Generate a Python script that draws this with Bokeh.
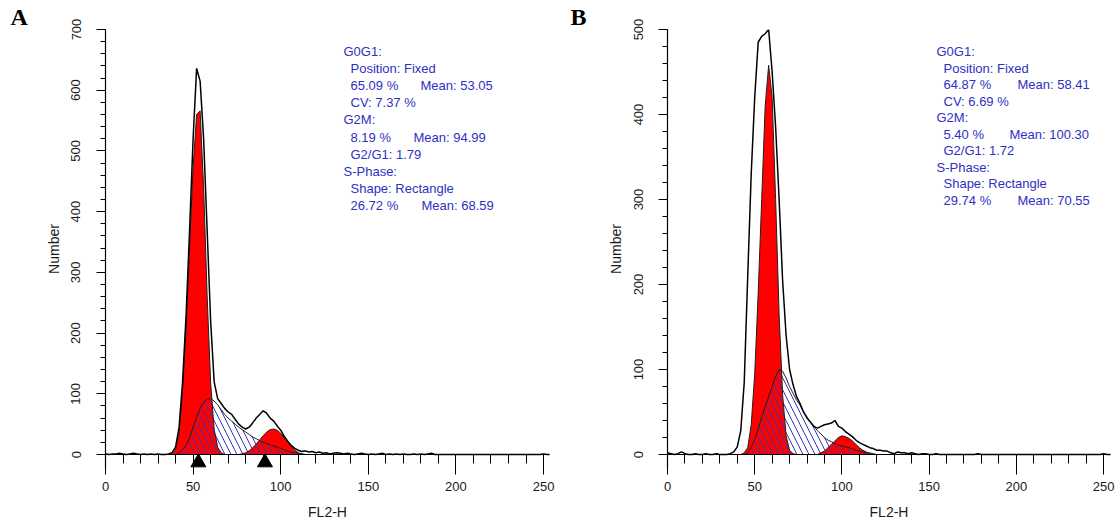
from bokeh.plotting import figure
from bokeh.models import Range1d, SingleIntervalTicker, FixedTicker, Span
from bokeh.layouts import row
from bokeh.embed import file_html
from bokeh.resources import INLINE
from bokeh.core.properties import value

# ---------------- channels (FL2-H) ----------------
chan_low = list(range(0, 34, 2))      # 0..32
chan_main = list(range(34, 132, 2))   # 34..130
chan_tail = list(range(132, 258, 2))  # 132..256

# ---------------- Panel A ----------------
a_raw_low = [1, 0, 1, 1, 2, 1, 0, 1, 2, 1, 0, 1, 0, 1, 0, 1, 0]
a_raw_main = [0, 1, 3, 12, 45, 120, 230, 370, 520, 636,
              615, 520, 370, 220, 120, 92, 84, 76, 70, 66,
              58, 50, 45, 42, 45, 52, 60, 66, 72, 68,
              60, 55, 47, 40, 30, 22, 15, 10, 7, 5,
              6, 4, 5, 3, 4, 2, 3, 1, 2]
a_raw_tail = [3, 2, 1, 2, 1, 0, 1, 2, 1, 0, 1, 0, 1, 2, 0, 1, 0, 1, 0, 1,
              0, 0, 1, 0, 1, 0, 1, 2, 0, 0,
              0, 0, 0, 0, 0, 0, 0, 0, 0, 0, 0, 0, 0, 0, 0, 0, 0, 0, 0, 0,
              0, 0, 0, 0, 0, 0, 0, 0, 0, 1, 0, 0, 0]
a_g0g1 = [0, 0, 1, 8, 35, 105, 210, 340, 472, 560,
          566, 440, 262, 118, 42, 12, 3, 0, 0, 0,
          0, 0, 0, 0, 0, 0, 0, 0, 0, 0,
          0, 0, 0, 0, 0, 0, 0, 0, 0, 0,
          0, 0, 0, 0, 0, 0, 0, 0, 0]
a_sphase = [0, 0, 0, 0, 3, 8, 15, 28, 45, 62,
            76, 86, 91, 92, 88, 82, 74, 66, 60, 55,
            50, 45, 41, 37, 33, 29, 26, 23, 20, 18,
            16, 14, 12, 10, 8, 6, 4, 3, 2, 1,
            0, 0, 0, 0, 0, 0, 0, 0, 0]
a_g2m = [0, 0, 0, 0, 0, 0, 0, 0, 0, 0,
         0, 0, 0, 0, 0, 0, 0, 0, 0, 0,
         0, 0, 1, 3, 6, 11, 17, 24, 31, 37,
         41, 42, 40, 35, 28, 20, 13, 7, 3, 1,
         0, 0, 0, 0, 0, 0, 0, 0, 0]
a_markers = [53, 91]
a_lines = ["G0G1:", "Position:  Fixed", "65.09 %", "CV: 7.37 %", "G2M:",
           "8.19 %", "G2/G1: 1.79", "S-Phase:", "Shape: Rectangle", "26.72 %"]
a_means = {2: "Mean: 53.05", 5: "Mean: 94.99", 9: "Mean: 68.59"}

# ---------------- Panel B ----------------
b_raw_low = [2, 1, 0, 1, 3, 1, 0, 0, 1, 0, 0, 1, 0, 0, 1, 0, 0]
b_raw_main = [0, 1, 3, 9, 28, 85, 210, 330, 420, 485,
              492, 495, 500, 450, 385, 300, 205, 140, 100, 82,
              68, 60, 50, 43, 38, 33, 31, 33, 35, 36,
              37, 40, 33, 31, 27, 24, 21, 17, 14, 12,
              10, 8, 7, 5, 5, 4, 4, 2, 1]
b_raw_tail = [3, 2, 2, 1, 2, 1, 0, 1, 1, 0, 0, 1, 0, 0, 0, 0, 0, 0, 0, 0,
              0, 0, 0, 1, 0, 0, 0, 0, 0, 0,
              0, 0, 0, 0, 0, 0, 0, 0, 0, 0, 0, 0, 0, 0, 0, 0, 0, 0, 0, 0,
              0, 0, 0, 0, 0, 0, 0, 0, 0, 1, 0, 0, 0]
b_g0g1 = [0, 0, 0, 0, 0, 2, 8, 35, 95, 190,
          300, 410, 458, 420, 300, 165, 70, 22, 5, 1,
          0, 0, 0, 0, 0, 0, 0, 0, 0, 0,
          0, 0, 0, 0, 0, 0, 0, 0, 0, 0,
          0, 0, 0, 0, 0, 0, 0, 0, 0]
b_sphase = [0, 0, 0, 0, 0, 0, 2, 8, 18, 30,
            44, 56, 68, 80, 92, 100, 98, 90, 80, 72,
            64, 58, 50, 44, 38, 33, 28, 24, 20, 17,
            15, 13, 11, 10, 9, 8, 7, 5, 4, 3,
            2, 2, 1, 0, 0, 0, 0, 0, 0]
b_g2m = [0, 0, 0, 0, 0, 0, 0, 0, 0, 0,
         0, 0, 0, 0, 0, 0, 0, 0, 0, 0,
         0, 0, 0, 0, 0, 0, 0, 2, 4, 8,
         12, 16, 20, 22, 21, 19, 16, 12, 8, 5,
         3, 1, 0, 0, 0, 0, 0, 0, 0]
b_markers = []
b_lines = ["G0G1:", "Position:  Fixed", "64.87 %", "CV: 6.69 %", "G2M:",
           "5.40 %", "G2/G1: 1.72", "S-Phase:", "Shape: Rectangle", "29.74 %"]
b_means = {2: "Mean: 58.41", 5: "Mean: 100.30", 9: "Mean: 70.55"}

indent = [0, 1, 1, 1, 0, 1, 1, 0, 1, 1]

FONT = "Liberation Sans"
BLUE = "#2f2fc4"


def panel(letter, raw_parts, g1, sp, g2, markers, lines, means,
          xend, ymax, mleft, mright,
          text_px, line_gap, mean_px):
    W, H, TOP = 560, 523, 29
    AXIS_Y = 454          # page row of the zero baseline
    BELOW = 14            # frame continues this far below the baseline
    BOT = H - (AXIS_Y + BELOW)
    pxu_y = (AXIS_Y - TOP) / ymax
    ymin = -BELOW / pxu_y
    p = figure(width=W, height=H,
               x_range=Range1d(0, xend), y_range=Range1d(ymin, ymax),
               output_backend="svg", toolbar_location=None,
               min_border_left=mleft, min_border_right=mright,
               min_border_top=TOP, min_border_bottom=BOT)
    p.grid.visible = False
    p.outline_line_color = None
    p.background_fill_color = "white"
    p.border_fill_color = "white"
    pxu_x = (W - mleft - mright) / xend

    # panel letter as title
    p.title.text = letter
    p.title.align = "left"
    p.title.offset = -(mleft - 10)
    p.title.standoff = 0
    p.title.vertical_align = "bottom"
    p.title.text_font = "Liberation Serif"
    p.title.text_font_style = "bold"
    p.title.text_font_size = "24px"
    p.title.text_color = "black"

    # axes
    p.xaxis.ticker = SingleIntervalTicker(interval=50, num_minor_ticks=5)
    p.yaxis.ticker = FixedTicker(ticks=list(range(0, ymax + 1, 100)),
                                 minor_ticks=list(range(0, ymax + 1, 20)))
    for ax in (p.xaxis, p.yaxis):
        ax.axis_line_color = "black"
        ax.axis_line_width = 1.2
        ax.major_tick_line_color = "black"
        ax.minor_tick_line_color = "black"
        ax.major_tick_in = 0
        ax.minor_tick_in = 0
        ax.major_label_text_font = FONT
        ax.major_label_text_font_size = "13px"
        ax.major_label_text_color = "#1a1a1a"
        ax.axis_label_text_font = FONT
        ax.axis_label_text_font_size = "14px"
        ax.axis_label_text_font_style = "normal"
        ax.axis_label_text_color = "#1a1a1a"
    # x axis sits BELOW px under the baseline; ticks reach up to the baseline
    p.xaxis.axis_line_color = None
    p.xaxis.major_tick_in = BELOW
    p.xaxis.major_tick_out = 6
    p.xaxis.minor_tick_in = BELOW
    p.xaxis.minor_tick_out = -5
    p.xaxis.major_label_standoff = 7
    p.xaxis.axis_label_standoff = 10
    p.xaxis.axis_label = "FL2-H"
    p.yaxis.major_tick_out = 9
    p.yaxis.minor_tick_out = 5
    p.yaxis.major_label_standoff = 16
    p.yaxis.axis_label_standoff = 7
    p.yaxis.major_label_orientation = "vertical"
    p.yaxis.axis_label = "Number"

    # zero baseline
    p.add_layout(Span(location=0, dimension="width", line_color="black",
                      line_width=1.2))

    # fitted components
    p.varea(x=chan_main, y1=0, y2=g1, fill_color="#ff0000")
    p.varea(x=chan_main, y1=0, y2=g2, fill_color="#ff0000")
    p.varea(x=chan_main, y1=0, y2=sp, fill_color=None,
            hatch_pattern="\\", hatch_color="#3535b8", hatch_scale=12,
            hatch_weight=1)
    for comp in (g1, sp, g2):
        p.line(chan_main, comp, line_color="#202020", line_width=1)

    # raw histogram
    chan_all = chan_low + chan_main + chan_tail
    raw_all = raw_parts[0] + raw_parts[1] + raw_parts[2]
    p.line(chan_all, raw_all, line_color="black", line_width=1.5)

    # statistics text
    def dx(px):
        return px / pxu_x

    def dy(px):
        return ymax - px / pxu_y

    tx, ty, tt = [], [], []
    for i, s in enumerate(lines):
        tx.append(dx(text_px + 7 * indent[i]))
        ty.append(dy(22 + i * line_gap))
        tt.append(s)
    for i, s in means.items():
        tx.append(dx(text_px + mean_px[i]))
        ty.append(dy(22 + i * line_gap))
        tt.append(s)
    p.text(x=tx, y=ty, text=tt, text_font=value(FONT), text_font_size="13px",
           text_color=BLUE, text_baseline="alphabetic", text_align="left")

    # G1 / G2 position markers under the baseline
    if markers:
        p.scatter(x=markers, y=[-8 / pxu_y] * len(markers), marker="triangle",
                  size=15, fill_color="black", line_color="black")
    return p


pA = panel("A", (a_raw_low, a_raw_main, a_raw_tail), a_g0g1, a_sphase, a_g2m,
           a_markers, a_lines, a_means,
           253.4, 700, 105, 11,
           238, 17.1, {2: 77, 5: 70, 9: 78})
pB = panel("B", (b_raw_low, b_raw_main, b_raw_tail), b_g0g1, b_sphase, b_g2m,
           b_markers, b_lines, b_means,
           254.0, 500, 107, 10,
           269, 16.5, {2: 81, 5: 73, 9: 81})

layout = row(pA, pB)
open("out.html", "w").write(file_html(layout, INLINE))
